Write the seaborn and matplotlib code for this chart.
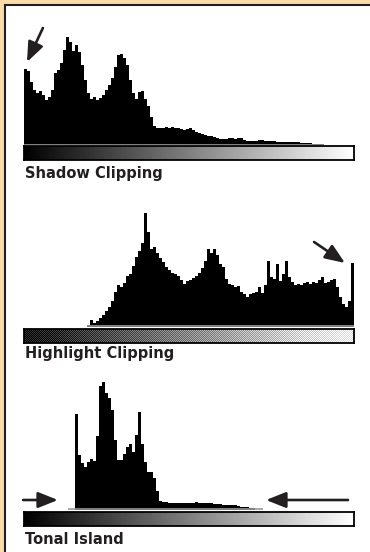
import numpy as np
import pandas as pd
import seaborn as sns
import matplotlib.pyplot as plt
from matplotlib.patches import Rectangle

# =============================================================================
# Data (histogram heights per 3-px bin)
# =============================================================================
shadow_start = 0
shadow_counts = [
    76, 74, 63, 55, 52, 54, 50, 45, 48, 55, 72, 75, 82, 95, 108, 103, 94, 100, 93, 80,
    65, 52, 46, 48, 45, 47, 50, 55, 60, 67, 78, 90, 91, 87, 80, 65, 52, 46, 53, 54,
    46, 39, 28, 19, 17, 17, 17, 18, 17, 18, 17, 17, 16, 15, 16, 17, 15, 13, 12, 11,
    10, 9, 9, 8, 7, 6, 6, 6, 7, 7, 6, 7, 7, 5, 4, 4, 4, 4, 5, 5,
    4, 4, 4, 4, 3, 3, 3, 3, 3, 3, 3, 3, 2, 2, 2, 2, 1, 1, 1, 1,
]

highlight_start = 21
highlight_counts = [
    2, 7, 4, 6, 9, 12, 16, 20, 26, 35, 42, 40, 44, 51, 53, 61, 70, 76, 84, 114,
    95, 78, 80, 74, 69, 65, 60, 57, 54, 53, 51, 47, 43, 46, 47, 49, 51, 54, 59, 66,
    78, 74, 78, 72, 63, 60, 48, 43, 42, 40, 41, 35, 33, 30, 33, 34, 35, 40, 34, 42,
    66, 50, 48, 63, 46, 53, 66, 50, 45, 42, 43, 42, 44, 45, 43, 45, 44, 47, 50, 44,
    45, 47, 48, 40, 30, 23, 20, 26, 64,
]

island_start = 17
island_counts = [
    96, 55, 47, 43, 48, 51, 49, 74, 124, 128, 117, 112, 100, 70, 50, 50, 56, 63, 66, 58,
    75, 98, 66, 48, 38, 38, 32, 19, 9, 8, 8, 7, 7, 7, 7, 7, 7, 7, 7, 7,
    8, 7, 7, 7, 7, 7, 6, 6, 6, 5, 5, 5, 5, 5, 4, 3, 3, 3, 2, 2,
]

titles = ["Shadow Clipping", "Highlight Clipping", "Tonal Island"]

# =============================================================================
# Layout (pixels)
# =============================================================================
W, H = 370, 552
n_bins = 110
peach = "#FDDAAA"
ink = "#231F20"

sns.set_style("white")
plt.rcParams["font.family"] = ["DejaVu Sans"]

fig = plt.figure(figsize=(W / 100, H / 100), dpi=100)
fig.patch.set_facecolor(peach)


def px_axes(left, top, width, height):
    return fig.add_axes([left / W, 1 - (top + height) / H, width / W, height / H])


bg = px_axes(0, 0, W, H)
bg.set_xlim(0, W)
bg.set_ylim(H, 0)
bg.set_axis_off()
bg.add_patch(Rectangle((5, 5), 420, 620, facecolor="white", edgecolor=ink, linewidth=1.5))


def draw_hist(baseline, start, counts, line_pad=0.0):
    ax = px_axes(24, baseline - 130, 330, 130)
    df = pd.DataFrame({
        "level": np.arange(start, start + len(counts)) + 0.5,
        "count": np.asarray(counts, dtype=float),
    })
    sns.histplot(
        data=df,
        x="level",
        weights="count",
        binwidth=1,
        binrange=(start, start + len(counts)),
        element="step",
        fill=True,
        color="black",
        alpha=1,
        linewidth=0,
        ax=ax,
    )
    ax.hlines(0.3, start - line_pad, start + len(counts) + line_pad, color="#9a9a9a", lw=1.2)
    ax.set_xlim(0, n_bins)
    ax.set_ylim(0, 130)
    ax.set_axis_off()
    return ax


def draw_bar(top, height, dither=False):
    ax = px_axes(24, top, 330, height)
    g = np.tile(np.linspace(0.0, 1.0, 330), (int(round(height)), 1))
    if dither:
        ii, jj = np.indices(g.shape)
        checker = ((ii + jj) % 2) * 2 - 1
        g = np.clip(0.06 + 0.94 * g + 0.12 * checker, 0, 1)
    ax.imshow(g, cmap="gray", vmin=0, vmax=1, aspect="auto", interpolation="nearest")
    ax.set_xticks([])
    ax.set_yticks([])
    for spine in ax.spines.values():
        spine.set_color("black")
        spine.set_linewidth(1.3)
    return ax


def arrow(ax, tail, tip):
    ax.annotate(
        "",
        xy=tip,
        xytext=tail,
        arrowprops=dict(
            arrowstyle="-|>,head_length=0.8,head_width=0.32",
            mutation_scale=15,
            color=ink,
            lw=1.9,
            shrinkA=0,
            shrinkB=0,
        ),
        annotation_clip=False,
    )


def label(y_px, text):
    fig.text(25 / W, 1 - y_px / H, text, fontsize=10.5, fontweight="bold",
             color=ink, va="baseline")


# Panel 1: shadow clipping
ax1 = draw_hist(145, shadow_start, shadow_counts)
draw_bar(146, 14)
arrow(ax1, (6.3, 117), (1.0, 83))
label(178, titles[0])

# Panel 2: highlight clipping
ax2 = draw_hist(326.5, highlight_start, highlight_counts)
draw_bar(329, 13.5, dither=True)
arrow(ax2, (96.7, 84.5), (107.0, 63.5))
label(358, titles[1])

# Panel 3: tonal island
ax3 = draw_hist(509.5, island_start, island_counts, line_pad=2.5)
draw_bar(512, 14)
arrow(ax3, (-0.3, 9.5), (11.3, 9.5))
arrow(ax3, (108.0, 9.5), (80.7, 9.5))
label(544, titles[2])

fig.savefig("out.png", dpi=100, facecolor=peach)
